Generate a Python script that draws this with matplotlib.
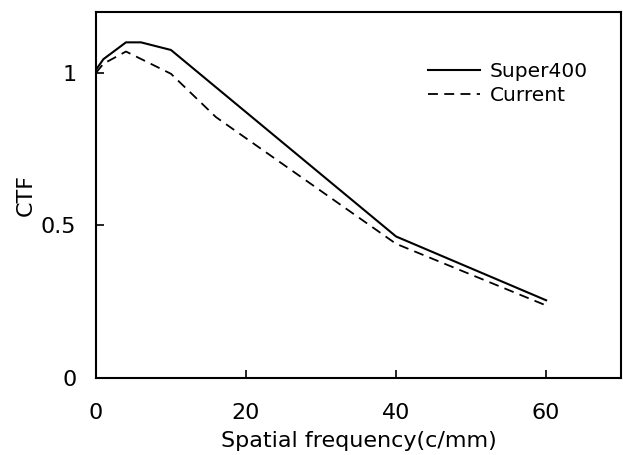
import matplotlib
matplotlib.use("Agg")
import matplotlib.pyplot as plt

plt.rcParams['font.family'] = ['DejaVu Sans']

x_super = [0, 1, 4, 6, 10, 40, 60]
y_super = [1.01, 1.045, 1.10, 1.10, 1.075, 0.464, 0.255]
x_current = [0, 1, 4, 10, 16, 40, 60]
y_current = [1.00, 1.03, 1.07, 0.997, 0.855, 0.44, 0.238]

fig = plt.figure(figsize=(6.23, 4.55), dpi=100)
ax = fig.add_axes([0.154, 0.169, 0.843, 0.805])
ax.plot(x_super, y_super, color='black', lw=1.5, label='Super400')
ax.plot(x_current, y_current, color='black', lw=1.3, ls=(0, (5.5, 3.5)), label='Current')

ax.set_xlim(0, 70)
ax.set_ylim(0, 1.2)
ax.set_xticks([0, 20, 40, 60])
ax.set_yticks([0, 0.5, 1])
ax.set_yticklabels(['0', '0.5', '1'])
ax.tick_params(direction='in', length=6, width=1.2, labelsize=16)
ax.tick_params(axis='x', pad=18)
ax.tick_params(axis='y', pad=14)
for s in ax.spines.values():
    s.set_linewidth(1.5)
ax.set_xlabel('Spatial frequency(c/mm)', fontsize=16, labelpad=6)
ax.set_ylabel('CTF', fontsize=16, labelpad=4)
leg = ax.legend(loc='upper left', bbox_to_anchor=(0.597, 0.913), frameon=False,
                prop={'size': 14.5},
                handlelength=2.6, handletextpad=0.5, labelspacing=0.25)
fig.savefig('out.png', dpi=100)
